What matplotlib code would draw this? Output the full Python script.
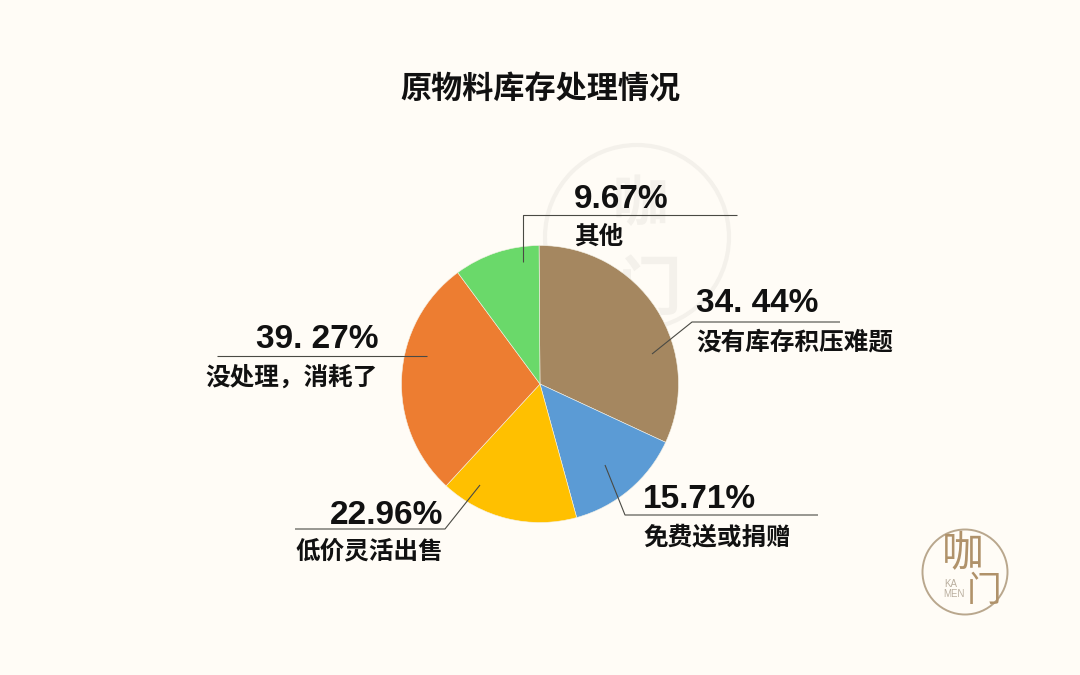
import matplotlib
matplotlib.use("Agg")
import matplotlib.pyplot as plt
from matplotlib.patches import Circle

TITLE = "原物料库存处理情况"
categories = ["没有库存积压难题", "免费送或捐赠", "低价灵活出售", "没处理\uff0c消耗了", "其他"]
value_labels = ["34. 44%", "15.71%", "22.96%", "39. 27%", "9.67%"]
# the drawn slices do not follow the printed percentages: shares
slice_shares = [32.0, 13.8, 16.1, 28.0, 10.0]
colors = ["#A58760", "#5B9BD5", "#FFC000", "#ED7D31", "#6AD96A"]

BG = "#FFFCF6"
CJK = ["Noto Sans CJK SC", "DejaVu Sans"]
LATIN = ["Liberation Sans", "DejaVu Sans"]
W, H = 1080, 675
fig = plt.figure(figsize=(W / 100, H / 100), dpi=100, facecolor=BG)

# overlay in pixel coordinates
ov = fig.add_axes([0, 0, 1, 1], zorder=3)
ov.set_xlim(0, W); ov.set_ylim(H, 0); ov.axis("off"); ov.patch.set_alpha(0)
# background decoration (watermark) under the pie
bgax = fig.add_axes([0, 0, 1, 1], zorder=0)
bgax.set_xlim(0, W); bgax.set_ylim(H, 0); bgax.axis("off")
bgax.set_aspect("equal")
WM = "#F4F1EB"
bgax.add_patch(Circle((637, 237), 92, fill=False, ec=WM, lw=3))
bgax.text(640, 205, "咖", family=CJK, fontsize=40, color=WM, ha="center", va="center", fontweight="bold")
bgax.text(650, 290, "门", family=CJK, fontsize=46, color=WM, ha="center", va="center", fontweight="bold")

# pie
cx, cy, r = 540, 384, 138.5
pie_ax = fig.add_axes([(cx - r) / W, 1 - (cy + r) / H, 2 * r / W, 2 * r / H], zorder=1)
pie_ax.pie(slice_shares, colors=colors, startangle=90.4, counterclock=False, radius=1,
           wedgeprops=dict(edgecolor="#F4F1E6", linewidth=0.4))
pie_ax.set_xlim(-1, 1); pie_ax.set_ylim(-1, 1)

ov.text(540, 90, TITLE, family=CJK, fontsize=22.4, fontweight="bold", color="#111111", ha="center", va="center")

# leader lines
leaders = [
    ([652, 692, 840], [354, 322, 322]),
    ([605, 625, 818], [465, 515, 515]),
    ([480, 445, 295], [485, 529, 529]),
    ([427, 217], [356, 356]),
    ([523, 523, 737], [262, 215, 215]),
]
for xs, ys in leaders:
    ov.plot(xs, ys, color="#4A4A44", lw=0.8, solid_capstyle="butt")

# text layout: x, ha, y of value, y of category
layout = [
    (696, "left", 304, 343),
    (643, "left", 499, 537),
    (443, "right", 516, 551),
    (378, "right", 339, 377),
    (574, "left", 200, 237),
]
for (x, ha, yv, yc), v, c in zip(layout, value_labels, categories):
    ov.text(x, yv, v, family=LATIN, fontsize=24, fontweight="bold", color="#111111", ha=ha, va="center")
    ov.text(x, yc, c, family=CJK, fontsize=17.7, fontweight="bold", color="#111111", ha=ha, va="center")

# logo
ov.set_aspect("equal")
ov.add_patch(Circle((965, 572), 42.5, fill=False, ec="#B9A78D", lw=1.4))
ov.text(963, 555, "咖", family=CJK, fontsize=30, color="#B0926A", ha="center", va="center", fontweight="medium")
ov.text(984, 591, "门", family=CJK, fontsize=25, color="#B0926A", ha="center", va="center", fontweight="medium")
ov.text(951, 584, "KA", family=LATIN, fontsize=7, color="#B9AE9E", ha="center", va="center")
ov.text(954, 594, "MEN", family=LATIN, fontsize=7, color="#B9AE9E", ha="center", va="center")

fig.savefig("out.png", dpi=100, facecolor=BG)
